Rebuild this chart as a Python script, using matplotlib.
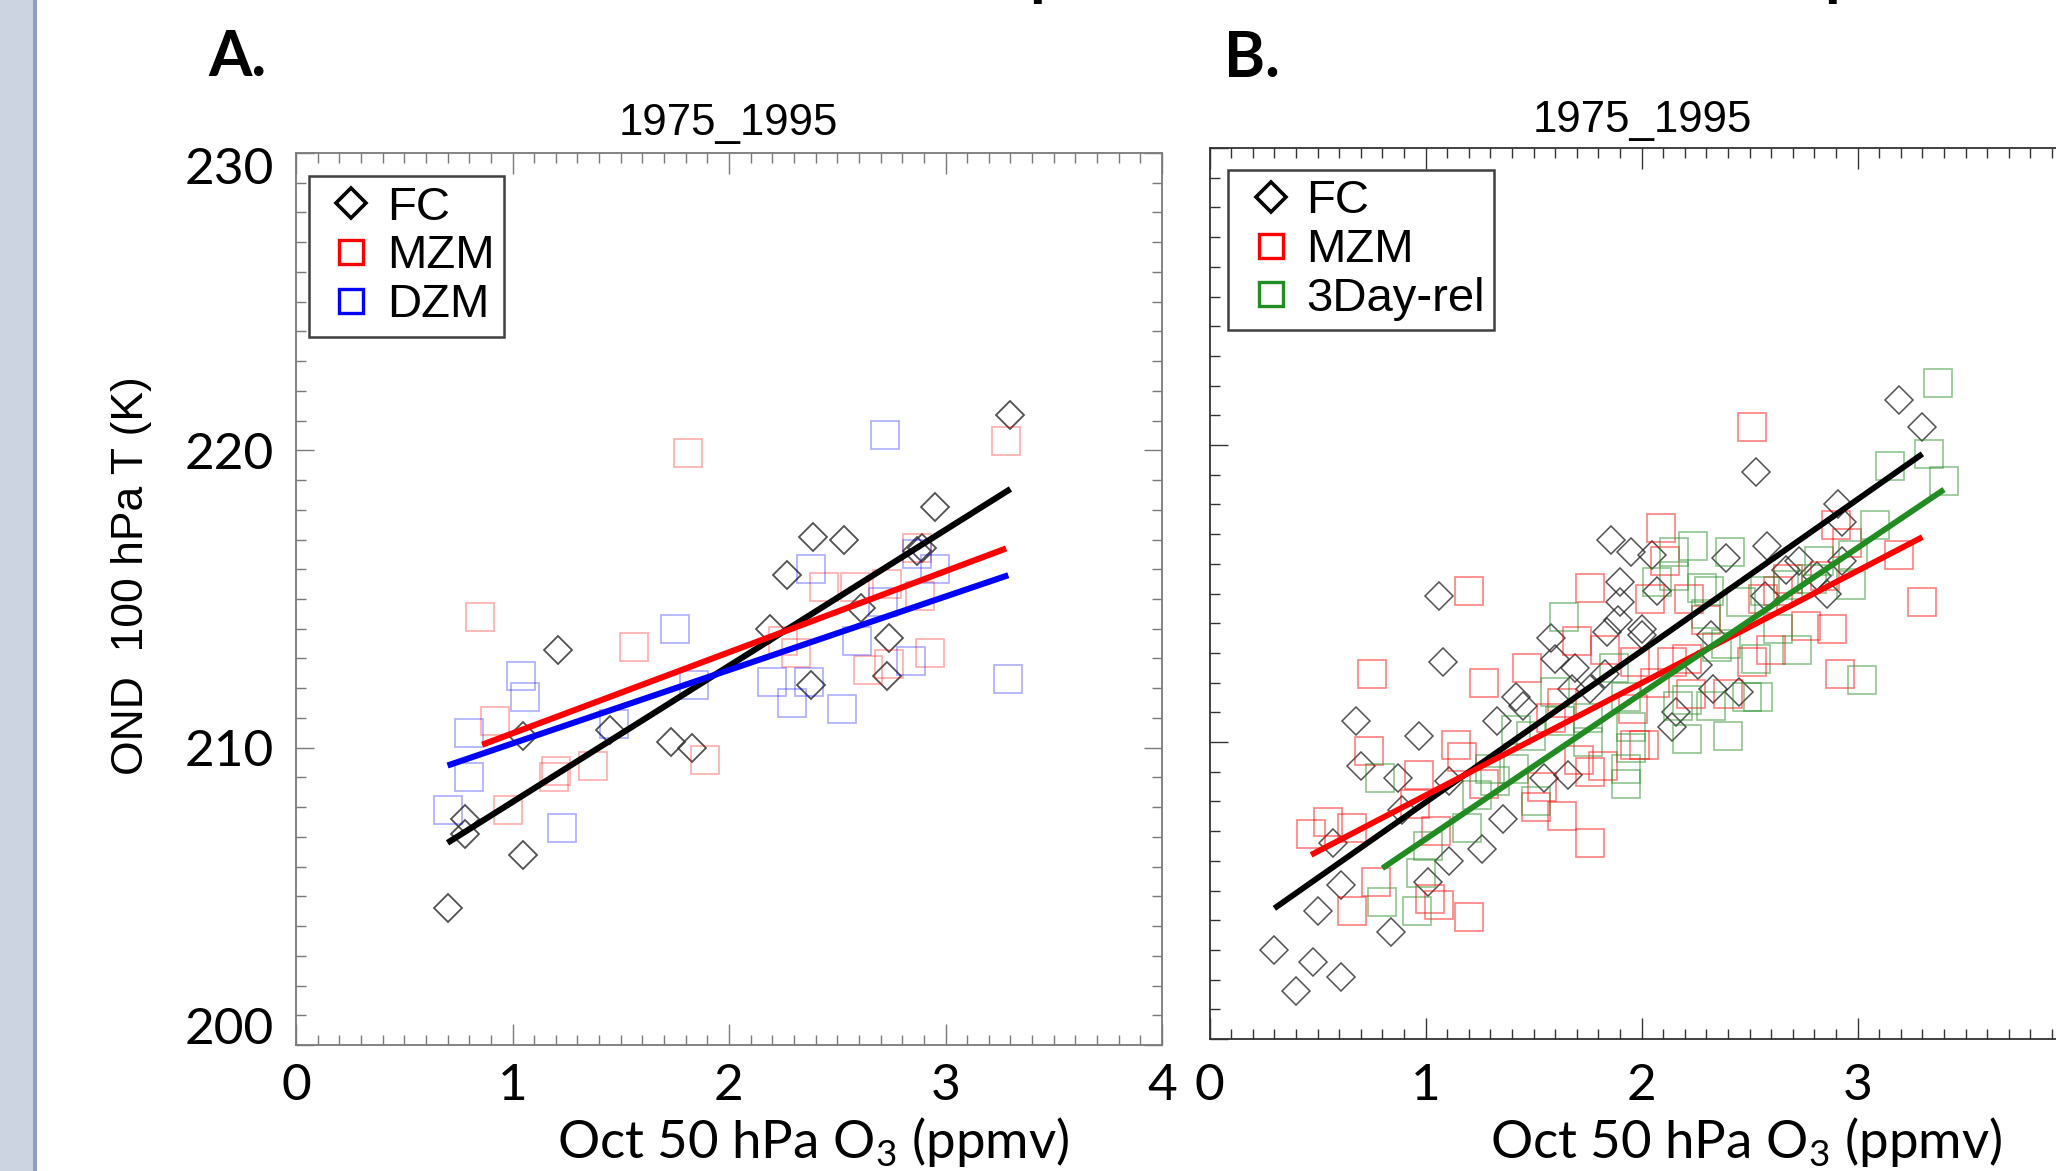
import matplotlib
matplotlib.use("Agg")
import matplotlib.pyplot as plt
from matplotlib.lines import Line2D
from matplotlib.patches import Rectangle
from matplotlib.ticker import MultipleLocator
from matplotlib.transforms import ScaledTranslation


# ----------------------------
# Data
# ----------------------------
PERIOD = "1975_1995"
X_LABEL = "Oct 50 hPa O$_\\mathregular{3}$ (ppmv)"
Y_LABEL = "OND  100 hPa T (K)"
X_TICKS = [0, 1, 2, 3, 4]
Y_TICKS = [200, 210, 220, 230]

# panel A
fc_a_x = [1.21, 1.05, 1.45, 1.73, 1.83, 0.78, 0.78, 1.05, 0.70, 3.30, 2.95,
          2.39, 2.53, 2.87, 2.89, 2.27, 2.61, 2.19, 2.74, 2.38, 2.73]
fc_a_y = [213.3, 210.4, 210.6, 210.2, 210.0, 207.6, 207.1, 206.4, 204.6, 221.2, 218.1,
          217.1, 217.0, 216.6, 216.7, 215.8, 214.7, 214.0, 213.7, 212.1, 212.4]

mzm_a_x = [1.81, 0.85, 1.56, 0.92, 1.20, 1.19, 1.37, 0.98, 1.89, 3.28,
           2.87, 2.44, 2.58, 2.73, 2.88, 2.25, 2.31, 2.93, 2.64, 2.74]
mzm_a_y = [219.9, 214.4, 213.4, 210.9, 209.2, 209.0, 209.4, 207.9, 209.6, 220.3,
           216.7, 215.4, 215.4, 215.5, 215.1, 213.6, 213.2, 213.2, 212.6, 212.8]

dzm_a_x = [1.04, 1.06, 1.75, 1.84, 1.47, 0.80, 0.80, 0.70, 1.23, 2.72, 2.38,
           2.95, 2.87, 2.71, 2.59, 2.84, 2.20, 2.37, 2.29, 2.52, 3.29]
dzm_a_y = [212.4, 211.7, 214.0, 212.1, 210.8, 210.5, 209.0, 207.9, 207.3, 220.5, 216.0,
           216.0, 216.5, 214.9, 213.6, 212.9, 212.2, 212.2, 211.5, 211.3, 212.3]

# regression lines, panel A (end points)
fit_a_fc_x = [0.70, 3.30]
fit_a_fc_y = [206.8, 218.7]
fit_a_mzm_x = [0.86, 3.28]
fit_a_mzm_y = [210.1, 216.7]
fit_a_dzm_x = [0.70, 3.29]
fit_a_dzm_y = [209.4, 215.8]

# panel B
fc_b_x = [1.06, 1.08, 0.68, 0.97, 0.70, 0.87, 1.11, 0.89, 0.57, 1.26, 1.11, 1.01,
          0.61, 0.50, 0.84, 0.30, 0.48, 0.61, 0.40,
          1.86, 1.95, 2.05, 2.39, 1.90, 2.07, 1.90, 1.89, 1.84, 2.00, 2.00, 1.58,
          1.60, 1.69, 1.83, 1.76, 1.68, 2.26, 2.32, 2.33, 2.45, 2.16, 2.14, 1.42,
          1.45, 1.33, 1.55, 1.66, 1.36,
          3.19, 3.30, 2.53, 2.91, 2.93, 2.58, 2.73, 2.67, 2.93, 2.57, 2.86, 2.81]
fc_b_y = [214.9, 212.7, 210.7, 210.2, 209.2, 208.8, 208.7, 207.7, 206.6, 206.4, 206.0, 205.3,
          205.2, 204.3, 203.6, 203.0, 202.6, 202.1, 201.6,
          216.8, 216.4, 216.3, 216.2, 215.4, 215.1, 214.7, 214.1, 213.7, 213.8, 213.6, 213.5,
          212.8, 212.5, 212.3, 211.8, 211.8, 212.6, 213.6, 211.8, 211.7, 211.0, 210.5, 211.5,
          211.2, 210.7, 208.8, 208.9, 207.4,
          221.5, 220.6, 219.1, 218.0, 217.4, 216.6, 216.1, 215.8, 216.1, 214.9, 215.0, 215.6]

mzm_b_x = [1.20, 0.75, 1.27, 0.74, 1.14, 1.17, 0.97, 0.95, 1.27, 0.55, 0.47, 0.66,
           1.05, 0.77, 0.66, 1.02, 1.06, 1.20,
           2.09, 2.11, 1.76, 2.04, 2.22, 2.30, 1.70, 1.83, 1.47, 1.97, 2.14, 2.21,
           2.06, 1.63, 1.58, 2.23, 2.40, 1.96, 2.01, 1.97, 1.71, 1.76, 1.82, 1.54,
           1.51, 1.63, 1.76, 2.51,
           2.51, 2.90, 2.95, 3.19, 3.30, 2.68, 2.85, 2.56, 2.63, 2.76, 2.88, 2.60, 2.92]
mzm_b_y = [215.1, 212.3, 212.0, 209.7, 209.9, 209.5, 208.9, 207.9, 208.6, 207.3, 206.9, 207.1,
           207.0, 205.3, 204.3, 204.7, 204.5, 204.1,
           217.2, 216.1, 215.2, 214.8, 214.8, 214.1, 213.4, 213.1, 212.5, 212.7, 212.7, 212.8,
           212.0, 211.3, 210.8, 211.6, 211.6, 211.1, 209.9, 209.9, 209.4, 209.0, 209.2, 208.5,
           207.8, 207.5, 206.6, 212.7,
           220.6, 217.3, 216.7, 216.3, 214.7, 215.5, 215.6, 214.8, 215.1, 213.9, 213.8, 213.1, 212.3]

rel_b_x = [0.79, 0.80, 0.96, 0.98, 1.01, 1.19, 1.24, 1.30,
           2.24, 2.41, 2.15, 2.07, 2.15, 2.28, 2.31, 2.46, 1.64, 2.30, 2.35, 2.39,
           1.87, 1.60, 1.93, 1.75, 1.62, 2.17, 2.21, 2.32, 2.49, 2.54, 2.21, 2.40,
           1.95, 1.95, 1.75, 1.93, 1.93, 1.42, 1.49, 1.41, 1.32, 1.51, 2.53,
           3.37, 3.15, 3.33, 3.40, 3.08, 2.98, 2.82, 2.97, 2.79, 2.57, 2.68, 2.63, 2.72, 3.02]
rel_b_y = [208.8, 204.6, 204.3, 205.6, 206.5, 207.1, 208.2, 209.1,
           216.6, 216.4, 216.4, 215.4, 215.6, 215.2, 215.1, 214.7, 214.2, 214.3, 213.2, 213.3,
           212.5, 211.7, 211.5, 210.8, 210.7, 211.2, 211.4, 211.2, 211.5, 211.5, 210.1, 210.2,
           210.5, 209.8, 210.0, 208.6, 209.1, 210.4, 210.2, 209.1, 208.7, 208.0, 212.8,
           222.1, 219.3, 219.7, 218.8, 217.3, 216.3, 216.1, 215.3, 215.5, 215.1, 215.3, 213.8, 213.1, 212.1]

# regression lines, panel B (end points)
fit_b_fc_x = [0.30, 3.30]
fit_b_fc_y = [204.4, 219.7]
fit_b_mzm_x = [0.47, 3.30]
fit_b_mzm_y = [206.2, 216.9]
fit_b_rel_x = [0.80, 3.40]
fit_b_rel_y = [205.75, 218.5]


# ----------------------------
# Figure settings
# ----------------------------
W, H = 2056, 1171
DPI = 100

plt.rcParams["font.family"] = ["Lato", "DejaVu Sans"]
plt.rcParams["mathtext.fontset"] = "custom"
plt.rcParams["mathtext.rm"] = "Lato"

HELV = "Liberation Sans"
LEGEND_PROP = {"family": HELV, "size": 34}


def px(x, y, w, h):
    # pixel box (top-left origin) -> figure fraction rect
    return [x / W, 1 - (y + h) / H, w / W, h / H]


def style_axes(ax, spine_color, xpad):
    ax.set_xlim(0, 4)
    ax.set_ylim(200, 230)
    ax.set_xticks(X_TICKS)
    ax.set_yticks(Y_TICKS)
    ax.xaxis.set_minor_locator(MultipleLocator(0.1))
    ax.yaxis.set_minor_locator(MultipleLocator(1))
    ax.tick_params(which="both", direction="in", top=True, right=True,
                   color=spine_color, width=1.0)
    ax.tick_params(axis="x", which="major", length=15, labelsize=37, pad=xpad)
    ax.tick_params(axis="x", which="minor", length=7.5)
    ax.tick_params(axis="y", which="major", length=13, labelsize=37, pad=16)
    ax.tick_params(axis="y", which="minor", length=7)
    for s in ax.spines.values():
        s.set_color(spine_color)
        s.set_linewidth(1.3)


def add_legend(ax, handles, labels, anchor):
    leg = ax.legend(handles, labels, loc="upper left", bbox_to_anchor=anchor,
                    borderaxespad=0, prop=LEGEND_PROP, frameon=True, fancybox=False,
                    edgecolor="#404040", framealpha=1, borderpad=0.2,
                    handlelength=1.4, handletextpad=0.05, labelspacing=0.1,
                    numpoints=1)
    leg.get_frame().set_linewidth(1.8)
    leg.set_zorder(10)
    return leg


def main():
    fig = plt.figure(figsize=(W / DPI, H / DPI), dpi=DPI)
    fig.patch.set_facecolor("white")

    # slide side strip
    fig.patches.append(Rectangle((0, 0), 33 / W, 1, transform=fig.transFigure,
                                 facecolor="#cdd4e1", edgecolor="none"))
    fig.patches.append(Rectangle((33 / W, 0), 4 / W, 1, transform=fig.transFigure,
                                 facecolor="#8d9ec7", edgecolor="none"))

    # cut-off slide heading (only descenders visible)
    for xp in (1029, 1824):
        fig.text(xp / W, (H + 6) / H, "p", ha="left", va="baseline",
                 fontsize=46, fontweight="bold", family="Lato")

    ax_a = fig.add_axes(px(296, 153, 866, 892))
    ax_b = fig.add_axes(px(1209.6, 148, 864, 891))

    # ---- panel A ----
    style_axes(ax_a, "#7a7a7a", xpad=13)
    ax_a.plot(fc_a_x, fc_a_y, ls="none", marker="D", ms=14.5, mfc="none",
              mec=(0.2, 0.2, 0.2, 0.85), mew=1.3, zorder=2)
    ax_a.plot(mzm_a_x, mzm_a_y, ls="none", marker="s", ms=20, mfc="none",
              mec=(1, 0, 0, 0.3), mew=1.3, zorder=2)
    ax_a.plot(dzm_a_x, dzm_a_y, ls="none", marker="s", ms=20, mfc="none",
              mec=(0, 0, 1, 0.3), mew=1.3, zorder=2)
    ax_a.plot(fit_a_fc_x, fit_a_fc_y, color="black", lw=4.4, solid_capstyle="butt", zorder=3)
    ax_a.plot(fit_a_mzm_x, fit_a_mzm_y, color="red", lw=4.4, solid_capstyle="butt", zorder=3)
    ax_a.plot(fit_a_dzm_x, fit_a_dzm_y, color="blue", lw=4.4, solid_capstyle="butt", zorder=3)

    # y tick labels 230 and 200 sit inside the axis range
    for lab in ax_a.get_yticklabels():
        if lab.get_text() == "230":
            lab.set_transform(lab.get_transform() + ScaledTranslation(0, -0.12, fig.dpi_scale_trans))
        elif lab.get_text() == "200":
            lab.set_transform(lab.get_transform() + ScaledTranslation(0, 0.195, fig.dpi_scale_trans))

    h_fc = Line2D([], [], ls="none", marker="D", ms=15, mfc="none", mec="black", mew=2.6)
    h_mzm = Line2D([], [], ls="none", marker="s", ms=17, mfc="none", mec="red", mew=2.4)
    h_dzm = Line2D([], [], ls="none", marker="s", ms=17, mfc="none", mec="blue", mew=2.4)
    h_rel = Line2D([], [], ls="none", marker="s", ms=17, mfc="none", mec="#228b22", mew=2.4)
    add_legend(ax_a, [h_fc, h_mzm, h_dzm], ["FC", "MZM", "DZM"], (0.015, 0.974))

    # ---- panel B ----
    style_axes(ax_b, "#333333", xpad=17.5)
    ax_b.tick_params(axis="y", labelleft=False)
    ax_b.plot(fc_b_x, fc_b_y, ls="none", marker="D", ms=14.2, mfc="none",
              mec=(0.15, 0.15, 0.15, 0.8), mew=1.1, zorder=2)
    ax_b.plot(mzm_b_x, mzm_b_y, ls="none", marker="s", ms=20, mfc="none",
              mec=(1, 0, 0, 0.5), mew=1.2, zorder=2)
    ax_b.plot(rel_b_x, rel_b_y, ls="none", marker="s", ms=20, mfc="none",
              mec=(0.133, 0.545, 0.133, 0.5), mew=1.2, zorder=2)
    ax_b.plot(fit_b_fc_x, fit_b_fc_y, color="black", lw=4.2, solid_capstyle="butt", zorder=3)
    ax_b.plot(fit_b_mzm_x, fit_b_mzm_y, color="red", lw=4.2, solid_capstyle="butt", zorder=3)
    ax_b.plot(fit_b_rel_x, fit_b_rel_y, color="#228b22", lw=4.2, solid_capstyle="butt", zorder=3)
    add_legend(ax_b, [h_fc, h_mzm, h_rel], ["FC", "MZM", "3Day-rel"], (0.0213, 0.9753))

    # ---- text ----
    fig.text(728 / W, 1 - 135 / H, PERIOD, ha="center", va="baseline", family=HELV, fontsize=31.5)
    fig.text(1642 / W, 1 - 132 / H, PERIOD, ha="center", va="baseline", family=HELV, fontsize=31.5)
    fig.text(208 / W, 1 - 76 / H, "A.", ha="left", va="baseline", fontsize=45, fontweight="bold")
    fig.text(1224 / W, 1 - 77 / H, "B.", ha="left", va="baseline", fontsize=45, fontweight="bold")
    fig.text(131 / W, 1 - 576 / H, Y_LABEL, ha="center", va="center", rotation=90,
             family=HELV, fontsize=32)
    fig.text(813 / W, 1 - 1158 / H, X_LABEL, ha="center", va="baseline", fontsize=38)
    fig.text(1746 / W, 1 - 1158 / H, X_LABEL, ha="center", va="baseline", fontsize=38)

    fig.savefig("out.png", dpi=DPI)
    plt.close(fig)


if __name__ == "__main__":
    main()
